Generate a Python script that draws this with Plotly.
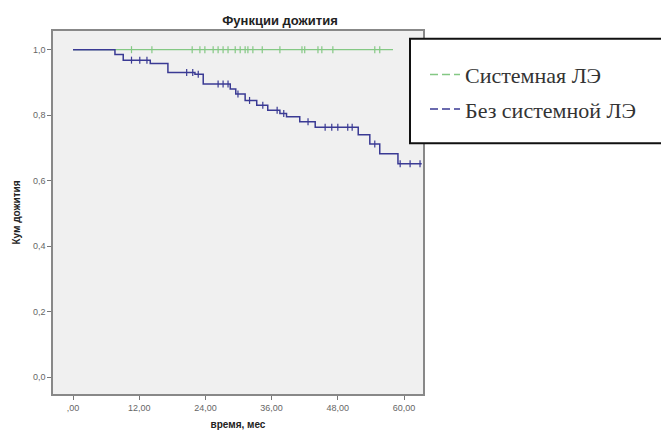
import numpy as np
import plotly.graph_objects as go

# ---- data ----
# Blue: without systemic LE (Kaplan-Meier step function)
blue_times = [0, 7.6, 9.1, 14.0, 17.2, 22.1, 23.6, 28.5, 29.5, 31.2, 33.3, 35.3,
              37.5, 38.7, 41.1, 43.9, 51.7, 53.8, 55.6, 58.9, 63.2]
blue_surv = [1.0, 0.985, 0.968, 0.958, 0.930, 0.925, 0.895, 0.880, 0.865, 0.845,
             0.830, 0.815, 0.805, 0.795, 0.780, 0.763, 0.740, 0.712, 0.682, 0.652, 0.652]
blue_censor = [10.6, 12.1, 13.4, 20.6, 21.7, 22.7, 26.3, 27.2, 28.1, 29.9, 32.0,
               34.4, 37.0, 38.2, 42.6, 45.7, 46.9, 48.0, 49.8, 50.6, 54.7,
               59.3, 61.1, 62.9]

# Green: systemic LE (no events)
green_times = [0, 58.0]
green_surv = [1.0, 1.0]
green_censor = [10.6, 14.3, 21.6, 23.0, 23.9, 25.4, 26.3, 27.2, 28.1, 29.4, 30.3,
                31.2, 31.7, 32.6, 34.3, 37.5, 41.5, 42.0, 44.4, 45.1, 47.1, 54.7, 55.6]

x_ticks = [0, 12, 24, 36, 48, 60]
x_tick_labels = [",00", "12,00", "24,00", "36,00", "48,00", "60,00"]
y_ticks = [0.0, 0.2, 0.4, 0.6, 0.8, 1.0]
y_tick_labels = ["0,0", "0,2", "0,4", "0,6", "0,8", "1,0"]

names = ["Системная ЛЭ", "Без системной ЛЭ"]
GREEN = "#84c884"
BLUE = "#3a3a94"


def step_value(times, surv, t):
    idx = np.searchsorted(np.array(times), t, side="right") - 1
    return [surv[i] for i in idx]


fig = go.Figure()

# curves
fig.add_trace(go.Scatter(x=green_times, y=green_surv, mode="lines",
                         line=dict(color=GREEN, width=1.4, shape="hv"),
                         showlegend=False))
fig.add_trace(go.Scatter(x=green_censor, y=step_value(green_times, green_surv, green_censor),
                         mode="markers",
                         marker=dict(symbol="line-ns", size=5,
                                     line=dict(color=GREEN, width=1.2)),
                         showlegend=False))
fig.add_trace(go.Scatter(x=blue_times, y=blue_surv, mode="lines",
                         line=dict(color=BLUE, width=1.5, shape="hv"),
                         showlegend=False))
fig.add_trace(go.Scatter(x=blue_censor, y=step_value(blue_times, blue_surv, blue_censor),
                         mode="markers",
                         marker=dict(symbol="line-ns", size=5,
                                     line=dict(color=BLUE, width=1.2)),
                         showlegend=False))

# legend entries (dashed, as in the reference)
for nm, col, grp in [(names[0], GREEN, "a"), (names[1], BLUE, "b")]:
    fig.add_trace(go.Scatter(x=[None], y=[None], mode="lines", name=nm,
                             legendgroup=grp,
                             line=dict(color=col, width=1.5, dash="8px,4px")))

# white legend box with black frame (right side runs off the picture)
fig.add_shape(type="rect", xref="paper", yref="paper",
              x0=(410 - 53) / 370, x1=(720 - 53) / 370,
              y0=(400 - 145) / 369, y1=(400 - 39) / 369,
              line=dict(color="#111111", width=2), fillcolor="white", layer="above")

fig.update_layout(
    width=661, height=441,
    margin=dict(l=53, r=238, t=31, b=41),
    paper_bgcolor="white",
    plot_bgcolor="#f0f0f0",
    title=dict(text="<b>Функции дожития</b>", x=280 / 661, xanchor="center",
               y=1 - 20 / 441, yanchor="middle",
               font=dict(family="Liberation Sans", size=13, color="#222222")),
    legend=dict(x=(425 - 53) / 370, xanchor="left", y=(400 - 54) / 369, yanchor="top",
                bgcolor="rgba(0,0,0,0)", borderwidth=0,
                traceorder="grouped", tracegroupgap=3,
                font=dict(family="Liberation Serif", size=22, color="#333333"),
                itemwidth=30),
    xaxis=dict(range=[-3.63, 63.44], tickvals=x_ticks, ticktext=x_tick_labels,
               showgrid=False, zeroline=False,
               ticks="outside", ticklen=4, tickcolor="#777777",
               showline=True, mirror=True, linecolor="#888888", linewidth=1.5,
               tickfont=dict(family="Liberation Sans", size=9, color="#666666"),
               title=dict(text="<b>время, мес</b>", standoff=9,
                          font=dict(family="Liberation Sans", size=10, color="#222222"))),
    yaxis=dict(range=[-0.051, 1.057], tickvals=y_ticks, ticktext=y_tick_labels,
               showgrid=False, zeroline=False,
               ticks="outside", ticklen=4, tickcolor="#777777",
               showline=True, mirror=True, linecolor="#888888", linewidth=1.5,
               tickfont=dict(family="Liberation Sans", size=9, color="#666666"),
               title=dict(text="<b>Кум дожития</b>", standoff=10,
                          font=dict(family="Liberation Sans", size=10, color="#222222"))),
)

fig.write_html("out.html", config={"displayModeBar": False},
               post_script="document.body.style.margin='0px';")
